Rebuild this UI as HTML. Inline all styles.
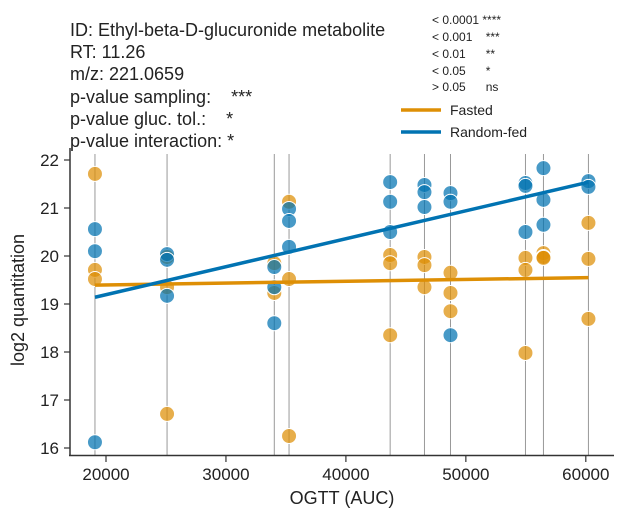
<!DOCTYPE html>
<html><head><meta charset="utf-8"><style>
body{margin:0;background:#fff;}
svg{display:block;font-family:"Liberation Sans",sans-serif;}
text{white-space:pre;}
</style></head><body>
<svg id="chart" width="622" height="522" viewBox="0 0 622 522">
<g font-size="18" fill="#222">
<text x="70" y="36">ID: Ethyl-beta-D-glucuronide metabolite</text>
<text x="70" y="58">RT: 11.26</text>
<text x="70" y="80">m/z: 221.0659</text>
<text x="70" y="103">p-value sampling:    ***</text>
<text x="70" y="125">p-value gluc. tol.:    *</text>
<text x="70" y="147">p-value interaction: *</text>
</g>
<g font-size="12" fill="#222">
<text x="432" y="24">&lt; 0.0001 ****</text>
<text x="432" y="41">&lt; 0.001    ***</text>
<text x="432" y="58">&lt; 0.01      **</text>
<text x="432" y="75">&lt; 0.05      *</text>
<text x="432" y="91">&gt; 0.05      ns</text>
</g>
<g font-size="14" fill="#222">
<line x1="401" y1="110" x2="441" y2="110" stroke="#de8f05" stroke-width="3.5"/>
<text x="450" y="115">Fasted</text>
<line x1="401" y1="132" x2="441" y2="132" stroke="#0173b2" stroke-width="3.5"/>
<text x="450" y="137">Random-fed</text>
</g>
<g id="vlines"></g>
<g id="dots"></g>
<g id="fits"></g>
<g id="axes"></g>
<text x="342" y="504" text-anchor="middle" font-size="18" fill="#222">OGTT (AUC)</text>
<text transform="translate(24,300) rotate(-90)" text-anchor="middle" font-size="18" fill="#222">log2 quantitation</text>
</svg>
<script>
const ogtt = [19080,25090,34030,35260,43690,46550,48720,54970,56470,60220];
const fasted = [[21.71,19.71,19.52],[19.98,19.35,16.71],[19.85,19.23],[21.13,19.52,16.25],[20.02,19.85,18.35],[19.98,19.81,19.35],[19.65,19.23,18.85],[19.96,19.71,17.98],[20.06,19.98,19.96],[20.69,19.94,18.69]];
const randomFed = [[20.56,20.10,16.12],[20.04,19.92,19.17],[19.77,19.35,18.60],[20.98,20.73,20.19],[21.54,21.13,20.50],[21.48,21.33,21.02],[21.31,21.13,18.35],[21.52,21.46,20.50],[21.83,21.17,20.65],[21.56,21.44]];
const xTicks = [20000,30000,40000,50000,60000];
const yTicks = [16,17,18,19,20,21,22];
const NS="http://www.w3.org/2000/svg";
const X=v=>106+(v-20000)*0.011995;
const Y=v=>160+(22-v)*48;
function mk(tag,attrs,parent){const e=document.createElementNS(NS,tag);for(const k in attrs)e.setAttribute(k,attrs[k]);parent.appendChild(e);return e;}
const vl=document.getElementById('vlines'),dots=document.getElementById('dots'),fits=document.getElementById('fits'),axes=document.getElementById('axes');
ogtt.forEach((x,i)=>{const l=mk('line',{x1:X(x),x2:X(x),y1:154,y2:455,stroke:'#999','stroke-width':1},vl);

});
function drawSeries(data,color,name){const xs=[],ys=[];
data.forEach((vals,i)=>vals.forEach(v=>{xs.push(ogtt[i]);ys.push(v);
const c=mk('circle',{cx:X(ogtt[i]),cy:Y(v),r:7.5,fill:color,'fill-opacity':0.72,stroke:'#fff','stroke-width':1},dots);

}));
const n=xs.length,mx=xs.reduce((a,b)=>a+b)/n,my=ys.reduce((a,b)=>a+b)/n;let sxy=0,sxx=0;
for(let k=0;k<n;k++){sxy+=(xs[k]-mx)*(ys[k]-my);sxx+=(xs[k]-mx)**2;}
const b=sxy/sxx,a=my-b*mx,x0=Math.min(...ogtt),x1=Math.max(...ogtt);
const l=mk('line',{x1:X(x0),y1:Y(a+b*x0),x2:X(x1),y2:Y(a+b*x1),stroke:color,'stroke-width':3.5},fits);

}
drawSeries(fasted,'#de8f05','fasted');
drawSeries(randomFed,'#0173b2','random-fed');
const ya=mk('line',{x1:70,y1:148,x2:70,y2:456,stroke:'#333','stroke-width':1.5},axes);


const xa=mk('line',{x1:69,y1:455.5,x2:614,y2:455.5,stroke:'#333','stroke-width':1.5},axes);


yTicks.forEach(t=>{mk('line',{x1:64,x2:70,y1:Y(t),y2:Y(t),stroke:'#333','stroke-width':1.2},axes);
const tx=mk('text',{x:59,y:Y(t)+6,'text-anchor':'end','font-size':17,fill:'#222'},axes);tx.textContent=t;

});
xTicks.forEach(t=>{mk('line',{x1:X(t),x2:X(t),y1:456,y2:462,stroke:'#333','stroke-width':1.2},axes);
const tx=mk('text',{x:X(t),y:480,'text-anchor':'middle','font-size':17,fill:'#222'},axes);tx.textContent=t;

});
</script>
</body></html>
